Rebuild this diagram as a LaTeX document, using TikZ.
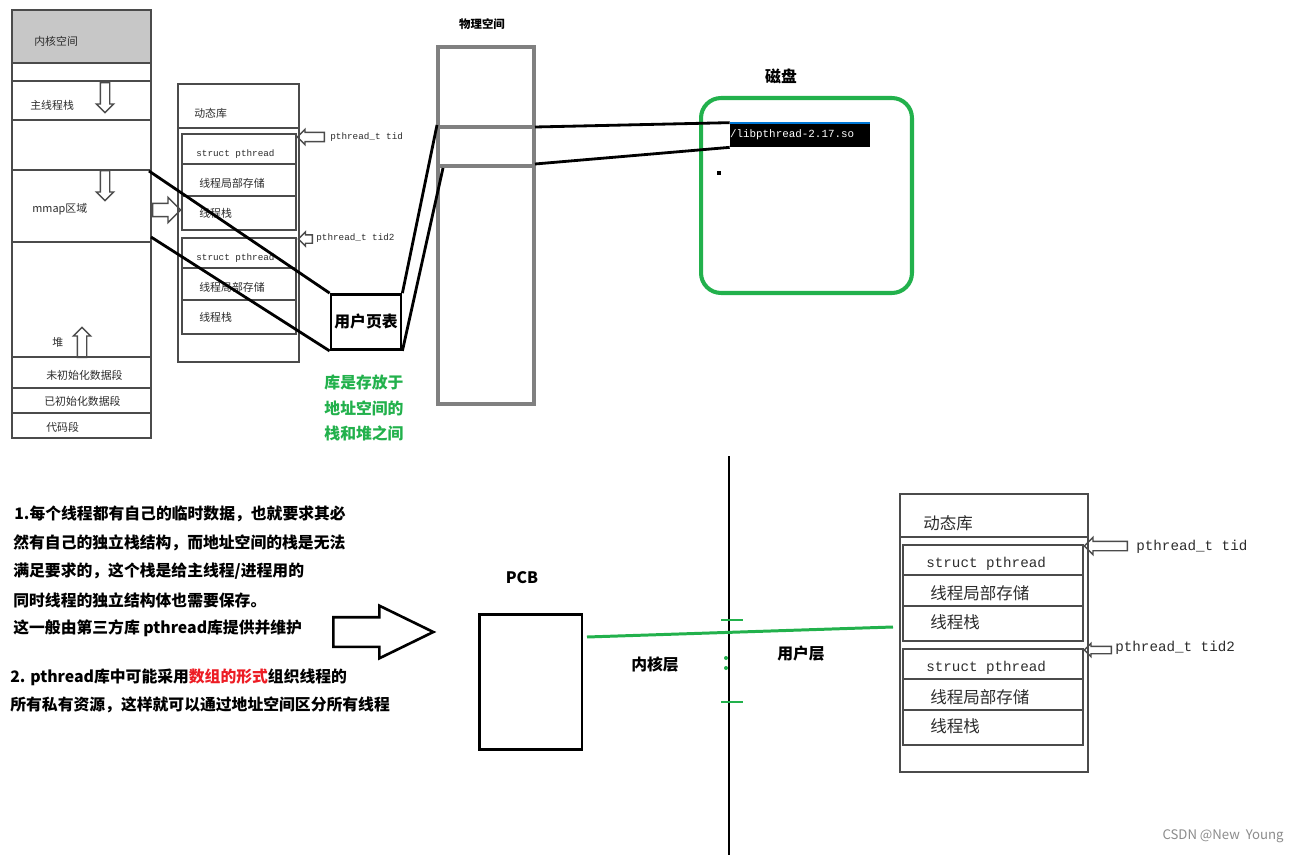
\documentclass[tikz,border=0pt]{standalone}
\usepackage{fontspec}
\setmainfont{Noto Sans CJK SC}
\setmonofont{Liberation Mono}
\usetikzlibrary{shapes.arrows}

\definecolor{paintgreen}{RGB}{34,177,76}
\definecolor{paintred}{RGB}{237,28,36}
\definecolor{scanline}{RGB}{75,75,75}
\definecolor{scantext}{RGB}{45,45,45}
\definecolor{winblue}{RGB}{0,120,215}

\tikzset{
  scanbox/.style={draw=scanline, line width=0.9pt},
  scanlabel/.style={anchor=west, inner sep=0pt, text=scantext, font=\fontsize{6.2}{6.2}\selectfont},
  scancode/.style={anchor=west, inner sep=0pt, text=scantext, font=\ttfamily\fontsize{5.3}{5.3}\selectfont},
  biglabel/.style={anchor=west, inner sep=0pt, text=scantext, font=\fontsize{9.4}{9.4}\selectfont},
  bigcode/.style={anchor=west, inner sep=0pt, text=scantext, font=\ttfamily\fontsize{8.1}{8.1}\selectfont},
  hollowarrow/.style={single arrow, draw=scanline, line width=0.8pt, inner xsep=0pt, inner ysep=0.08cm,
    anchor=tail, single arrow head extend=0.08cm},
  vhollowarrow/.style={hollowarrow, inner xsep=0.08cm, inner ysep=0pt},
  link/.style={line width=1.6pt},
  note/.style={anchor=west, inner sep=0pt, font=\bfseries\fontsize{9}{9}\selectfont},
  boldlabel/.style={inner sep=0pt, font=\bfseries\fontsize{9}{9}\selectfont},
}

\begin{document}
\begin{tikzpicture}[x=0.02cm, y=-0.02cm]
\useasboundingbox[fill=white] (0,0) rectangle (1299,855);

% process address space
\fill[black!22] (12,10) rectangle (151,63);
\draw[scanbox] (12,10) rectangle (151,438);
\foreach \yy in {63,81,120,170,242,357,388,413}
  \draw[scanbox] (12,\yy) -- (151,\yy);
\node[scanlabel] (kspace) at (34,41) {内核空间};
\node[scanlabel] (mainstack) at (30,105) {主线程栈};
\node[scanlabel] (mmap) at (32,209) {mmap区域};
\node[scanlabel] (heap) at (52,342) {堆};
\node[scanlabel] (bss) at (46,375) {未初始化数据段};
\node[scanlabel] (data) at (44,401) {已初始化数据段};
\node[scanlabel] (text) at (46,427) {代码段};
\node[vhollowarrow, shape border rotate=270, minimum height=0.6cm] (down1) at (105,82) {};
\node[vhollowarrow, shape border rotate=270, minimum height=0.6cm] (down2) at (105,170) {};
\node[vhollowarrow, shape border rotate=90, minimum height=0.6cm] (up1) at (82,358) {};
\node[hollowarrow, minimum height=0.56cm, inner ysep=0.12cm, single arrow head extend=0.12cm] (toLib) at (152,210) {};
\coordinate (mmaptop) at (149,171);
\coordinate (mmapbot) at (151,237);

% dynamic library (top)
\draw[scanbox] (178,84) rectangle (299,362);
\draw[scanbox] (178,128) -- (299,128);
\node[scanlabel] (libtitle) at (194,113) {动态库};
\foreach \top/\nm in {134/a,238/b}{
  \draw[scanbox] (182,\top) rectangle (296,\top+96);
  \draw[scanbox] (182,\top+30) -- (296,\top+30);
  \draw[scanbox] (182,\top+62) -- (296,\top+62);
  \node[scancode] (struct\nm) at (196,\top+20) {struct pthread};
  \node[scanlabel] (tls\nm) at (199,\top+49) {线程局部存储};
  \node[scanlabel] (stack\nm) at (199,\top+79) {线程栈};
}
\node[hollowarrow, shape border rotate=180, minimum height=0.54cm, single arrow head extend=0.06cm] (tidarrow) at (325,137) {};
\node[scancode] (tid) at (330,137) {pthread\_t tid};
\node[hollowarrow, shape border rotate=180, minimum height=0.28cm, inner ysep=0.07cm, single arrow head extend=0.06cm] (tid2arrow) at (313,239) {};
\node[scancode] (tid2) at (316,238) {pthread\_t tid2};

% page table
\node[draw, line width=1.6pt, minimum width=1.4cm, minimum height=1.1cm, inner sep=0pt,
  font=\bfseries\fontsize{9}{9}\selectfont] (ptable) at (366,322) {用户页表};
\draw[link] (mmaptop) -- (ptable.north west);
\draw[link] (mmapbot) -- (ptable.south west);
\node[boldlabel, text=paintgreen, align=center, font=\bfseries\fontsize{9}{14.5}\selectfont]
  (libnote) at (364,408) {库是存放于\\地址空间的\\栈和堆之间};

% physical memory
\node[draw=gray, line width=2.8pt, minimum width=1.92cm, minimum height=7.14cm, inner sep=0pt] (phys) at (486,225.5) {};
\node[boldlabel, font=\bfseries\fontsize{6.5}{6.5}\selectfont] (physlabel) at (482,24) {物理空间};
\draw[gray, line width=2.8pt] (438,127) -- (534,127);
\draw[gray, line width=2.8pt] (438,166) -- (534,166);
\coordinate (bandtl) at (437,125);
\coordinate (bandbl) at (443,168);
\coordinate (bandtr) at (535,127);
\coordinate (bandbr) at (535,164);
\draw[link] (ptable.north east) -- (bandtl);
\draw[link] (ptable.south east) -- (bandbl);

% disk
\node[boldlabel] (disklabel) at (781,76) {磁盘};
\node[draw=paintgreen, line width=2.3pt, rounded corners=0.4cm, minimum width=4.22cm, minimum height=3.9cm] (disk) at (806.5,195.5) {};
\node[fill=black, minimum width=2.8cm, minimum height=0.48cm, inner sep=0pt] (libbox) at (800,135) {};
\draw[winblue, line width=1.3pt] (libbox.north west) -- (libbox.north east);
\node[anchor=west, inner sep=0pt, text=white, font=\ttfamily\fontsize{6.2}{6.2}\selectfont] (libso) at (libbox.west) {/libpthread-2.17.so};
\fill (717,171) rectangle (721,175);
\draw[link] (bandtr) -- (libbox.north west);
\draw[link] (bandbr) -- (libbox.south west);

% notes
\node[note] (n1) at (14,514) {1.每个线程都有自己的临时数据，也就要求其必};
\node[note] (n2) at (13,543) {然有自己的独立栈结构，而地址空间的栈是无法};
\node[note] (n3) at (13,571) {满足要求的，这个栈是给主线程/进程用的};
\node[note] (n4) at (13,600) {同时线程的独立结构体也需要保存。};
\node[note] (n5) at (13,628) {这一般由第三方库 pthread库提供并维护};
\node[note] (n6) at (10,677) {2. pthread库中可能采用\textcolor{paintred}{数组的形式}组织线程的};
\node[note] (n7) at (10,705) {所有私有资源，这样就可以通过地址空间区分所有线程};
\node[single arrow, draw, line width=1.5pt, inner xsep=0pt, inner ysep=0.27cm, anchor=tail, minimum height=2cm,
  single arrow head extend=0.23cm, single arrow tip angle=52] (bigarrow) at (332,632) {};

% kernel / user split
\node[boldlabel] (pcblabel) at (522,578) {PCB};
\node[draw, line width=1.7pt, minimum width=2.06cm, minimum height=2.72cm, inner sep=0pt] (pcb) at (530.5,682) {};
\coordinate (splittop) at (729,456);
\coordinate (splitbot) at (729,855);
\draw[line width=1.7pt] (splittop) -- (splitbot);
\node[boldlabel] (klayer) at (655,664) {内核层};
\node[boldlabel] (ulayer) at (801,654) {用户层};
\coordinate (pcbout) at (587,637);
\coordinate (libin) at (893,627);
\draw[paintgreen, line width=1.7pt] (pcbout) -- (libin);
\draw[paintgreen, line width=1.7pt] (721,620) -- (743,620);
\draw[paintgreen, line width=1.7pt] (721,702) -- (743,702);
\fill[paintgreen] (726,658) circle (2);
\fill[paintgreen] (726,668) circle (2);

% dynamic library (bottom)
\draw[scanbox] (900,494) rectangle (1088,772);
\draw[scanbox] (900,537) -- (1088,537);
\node[biglabel] (libtitle2) at (923,523) {动态库};
\foreach \top/\nm in {545/c,649/d}{
  \draw[scanbox] (903,\top) rectangle (1083,\top+96);
  \draw[scanbox] (903,\top+30) -- (1083,\top+30);
  \draw[scanbox] (903,\top+61) -- (1083,\top+61);
  \node[bigcode] (struct\nm) at (926,\top+19) {struct pthread};
  \node[biglabel] (tls\nm) at (930,\top+48) {线程局部存储};
  \node[biglabel] (stack\nm) at (930,\top+77) {线程栈};
}
\node[hollowarrow, shape border rotate=180, minimum height=0.86cm] (tidarrow2) at (1128,546) {};
\node[bigcode] (tidb) at (1136,547) {pthread\_t tid};
\node[hollowarrow, shape border rotate=180, minimum height=0.54cm, inner ysep=0.06cm, single arrow head extend=0.06cm] (tid2arrow2) at (1112,650) {};
\node[bigcode] (tid2b) at (1115,648) {pthread\_t tid2};

\node[anchor=east, inner sep=0pt, text=black!45, font=\fontsize{7.5}{7.5}\selectfont] (mark) at (1284,836) {CSDN @New\ \ Young};
\end{tikzpicture}
\end{document}
